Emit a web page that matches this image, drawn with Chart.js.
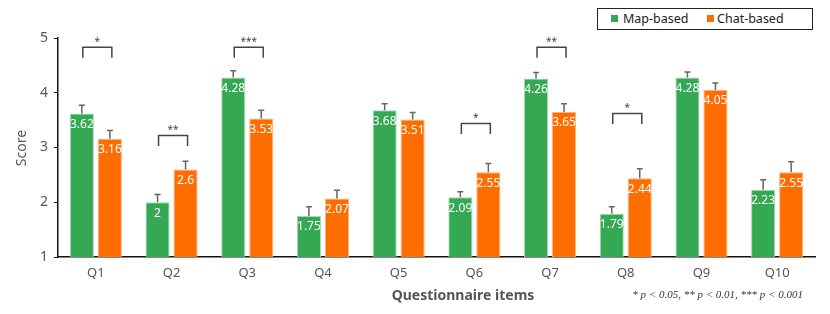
<!DOCTYPE html>
<html>
<head>
<meta charset="utf-8">
<title>Questionnaire scores</title>
<script src="https://cdn.jsdelivr.net/npm/chart.js"></script>
<style>
  body { margin: 0; background: #fff; }
  .wrap { position: relative; width: 830px; height: 314px; }
  .legend {
    position: absolute; left: 597px; top: 8px; width: 214px; height: 20px;
    border: 1px solid #222; background: #fff;
    font: 12.5px "Noto Sans", sans-serif; color: #222;
  }
  .legend span { position: absolute; top: 1px; line-height: 18px; }
  .legend i { position: absolute; top: 6px; width: 7px; height: 7px; }
  .note {
    position: absolute; right: 27px; top: 288px;
    font: italic 11px "Liberation Serif", serif; color: #333;
  }
</style>
</head>
<body>
<div class="wrap">
  <canvas id="chart" width="830" height="314"></canvas>
  <div class="legend">
    <i style="left:13px;background:#34a853"></i><span style="left:25px">Map-based</span>
    <i style="left:109px;background:#ff6d00"></i><span style="left:119px">Chat-based</span>
  </div>
  <div class="note">* p &lt; 0.05, ** p &lt; 0.01, *** p &lt; 0.001</div>
</div>
<script>
// data
const categories = ['Q1', 'Q2', 'Q3', 'Q4', 'Q5', 'Q6', 'Q7', 'Q8', 'Q9', 'Q10'];
const mapScores  = [3.62, 2, 4.28, 1.75, 3.68, 2.09, 4.26, 1.79, 4.28, 2.23];
const chatScores = [3.16, 2.6, 3.53, 2.07, 3.51, 2.55, 3.65, 2.44, 4.05, 2.55];
const mapErr  = [0.15, 0.14, 0.12, 0.17, 0.12, 0.10, 0.11, 0.13, 0.10, 0.18];
const chatErr = [0.15, 0.15, 0.15, 0.15, 0.13, 0.16, 0.15, 0.17, 0.13, 0.19];
const sigMarks = ['*', '**', '***', '', '', '*', '**', '*', '', ''];
const sigLevel = [4.83, 3.22, 4.83, null, null, 3.44, 4.83, 3.62, null, null];
const yTicks = [1, 2, 3, 4, 5];

const GREEN = '#34a853';
const ORANGE = '#ff6d00';
const TEXT = '#555';

// error bars, value labels, significance brackets, axis titles
const extras = {
  id: 'extras',
  afterDatasetsDraw(chart) {
    const ctx = chart.ctx;
    const y = chart.scales.y;
    const errs = [mapErr, chatErr];
    ctx.save();
    chart.data.datasets.forEach((ds, di) => {
      chart.getDatasetMeta(di).data.forEach((bar, i) => {
        const top = bar.y;
        const errTop = y.getPixelForValue(ds.data[i] + errs[di][i]);
        ctx.strokeStyle = '#666';
        ctx.lineWidth = 1.5;
        ctx.beginPath();
        ctx.moveTo(bar.x, top);
        ctx.lineTo(bar.x, errTop);
        ctx.moveTo(bar.x - 3, errTop);
        ctx.lineTo(bar.x + 3, errTop);
        ctx.stroke();
        ctx.fillStyle = '#fff';
        ctx.font = '12px "Noto Sans", sans-serif';
        ctx.textAlign = 'center';
        ctx.textBaseline = 'middle';
        ctx.fillText(String(ds.data[i]), bar.x, top + 11);
      });
    });
    const m0 = chart.getDatasetMeta(0).data;
    const m1 = chart.getDatasetMeta(1).data;
    sigLevel.forEach((lv, i) => {
      if (lv == null) return;
      const yy = y.getPixelForValue(lv);
      const x0 = m0[i].x + 1, x1 = m1[i].x + 2;
      ctx.strokeStyle = '#444';
      ctx.lineWidth = 1.5;
      ctx.beginPath();
      ctx.moveTo(x0, yy + 10.5);
      ctx.lineTo(x0, yy);
      ctx.lineTo(x1, yy);
      ctx.lineTo(x1, yy + 10.5);
      ctx.stroke();
      ctx.fillStyle = '#444';
      ctx.font = '10px "Noto Sans", sans-serif';
      ctx.textAlign = 'center';
      ctx.textBaseline = 'middle';
      ctx.fillText(sigMarks[i], (x0 + x1) / 2, yy - 5);
    });
    ctx.fillStyle = TEXT;
    ctx.font = 'bold 14px "Noto Sans", sans-serif';
    ctx.textAlign = 'center';
    ctx.textBaseline = 'middle';
    ctx.fillText('Questionnaire items', 463, 296);
    ctx.font = '14px "Noto Sans", sans-serif';
    ctx.translate(22, 148);
    ctx.rotate(-Math.PI / 2);
    ctx.fillText('Score', 0, 0);
    ctx.restore();
  }
};

new Chart(document.getElementById('chart'), {
  type: 'bar',
  data: {
    labels: categories,
    datasets: [
      { label: 'Map-based', data: mapScores, backgroundColor: GREEN,
        borderColor: '#a3dbb0', borderWidth: 1 },
      { label: 'Chat-based', data: chatScores, backgroundColor: ORANGE,
        borderColor: '#ffb27a', borderWidth: 1 }
    ]
  },
  options: {
    responsive: false,
    animation: false,
    layout: { padding: { top: 38, right: 15, left: 0, bottom: 0 } },
    datasets: { bar: { categoryPercentage: 0.74, barPercentage: 0.86 } },
    plugins: { legend: { display: false }, tooltip: { enabled: false } },
    scales: {
      x: {
        afterFit: s => { s.height = 57; },
        grid: { display: false, drawTicks: false },
        border: { color: '#111', width: 1.5 },
        ticks: { color: TEXT, font: { size: 13, family: 'Noto Sans' }, padding: 8 }
      },
      y: {
        min: 1, max: 5,
        afterFit: s => { s.width = 58; },
        afterBuildTicks: s => { s.ticks = yTicks.map(v => ({ value: v })); },
        grid: { drawOnChartArea: false, tickLength: 4, color: '#111' },
        border: { color: '#111', width: 1.5 },
        ticks: { color: TEXT, font: { size: 14, family: 'Noto Sans' }, padding: 6 }
      }
    }
  },
  plugins: [extras]
});
</script>
</body>
</html>
